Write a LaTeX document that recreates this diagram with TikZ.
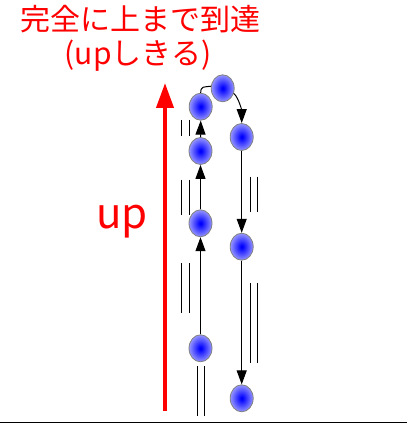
\documentclass[tikz,border=0pt]{standalone}
\usepackage{fontspec}
\newfontfamily\jp{Noto Sans CJK JP}
\usetikzlibrary{arrows.meta,shapes.geometric}
\definecolor{balledge}{RGB}{150,150,255}
\definecolor{ballrim}{RGB}{128,128,128}
\pgfdeclareradialshading{ballblue}{\pgfpoint{0bp}{0bp}}{color(0bp)=(blue); color(2bp)=(blue); color(25bp)=(balledge); color(50bp)=(balledge)}
\tikzset{
  ball/.style={ellipse, minimum width=23pt, minimum height=27pt, inner sep=0pt,
    draw=ballrim, line width=0.8pt, shading=ballblue},
  conn/.style={line width=1pt, -{Triangle[length=14pt,width=10pt]}},
  plain/.style={line width=1pt},
  mark2/.style={line width=1pt},
  redtxt/.style={text=red, font=\jp},
}
\begin{document}
\begin{tikzpicture}[x=1pt,y=-1pt]
\useasboundingbox (0,0) rectangle (407,443);
% title
\node[redtxt, font=\jp\fontsize{30}{30}\selectfont, anchor=center] (t1) at (140,19) {完全に上まで到達};
\node[redtxt, font=\jp\fontsize{30}{30}\selectfont, anchor=center] (t2) at (138,56) {(upしきる)};
\node[redtxt, font=\jp\fontsize{42}{42}\selectfont, anchor=center] (uptxt) at (122,222) {up};
% red arrow
\coordinate (ra) at (165,411);
\coordinate (rb) at (165,83);
\draw[red, line width=4pt, -{Triangle[length=25pt,width=17pt]}] (ra) -- (rb);
% nodes
\node[ball] (L1) at (200.5,348.3) {};
\node[ball] (L2) at (200.5,223.3) {};
\node[ball] (L3) at (200.5,151) {};
\node[ball] (L4) at (200.7,106.7) {};
\node[ball] (T) at (222.7,88.3) {};
\node[ball] (R1) at (241.7,137) {};
\node[ball] (R2) at (241.7,246.7) {};
\node[ball] (R3) at (241.7,398.3) {};
% connectors
\draw[conn] (L1.north) -- (L2.south);
\draw[conn] (L2.north) -- (L3.south);
\draw[conn] (L3.north) -- (L4.south);
\draw[plain] (L4.north) .. controls +(0,-7) and +(-7,1) .. (T.170);
\draw[conn] (T.-25) .. controls +(5,4) and +(0,-12) .. (R1.north);
\draw[conn] (R1.south) -- (R2.north);
\draw[conn] (R2.south) -- (R3.north);
% double marks
\foreach \xa/\ya/\yb in {181.7/120/136, 189.5/120/136, 181.7/180/215, 189.5/180/215, 181.7/263/313, 189.5/263/313, 197.5/366/415.7, 204.3/366/415.7, 250/177/211.7, 257.3/177/211.7, 250/283/362.7, 257.3/283/362.7}
  \draw[mark2] (\xa,\ya) -- (\xa,\yb);
% base line
\coordinate (b1) at (0,422);
\coordinate (b2) at (407,422);
\draw[line width=1pt] (b1) -- (b2);
\end{tikzpicture}
\end{document}
